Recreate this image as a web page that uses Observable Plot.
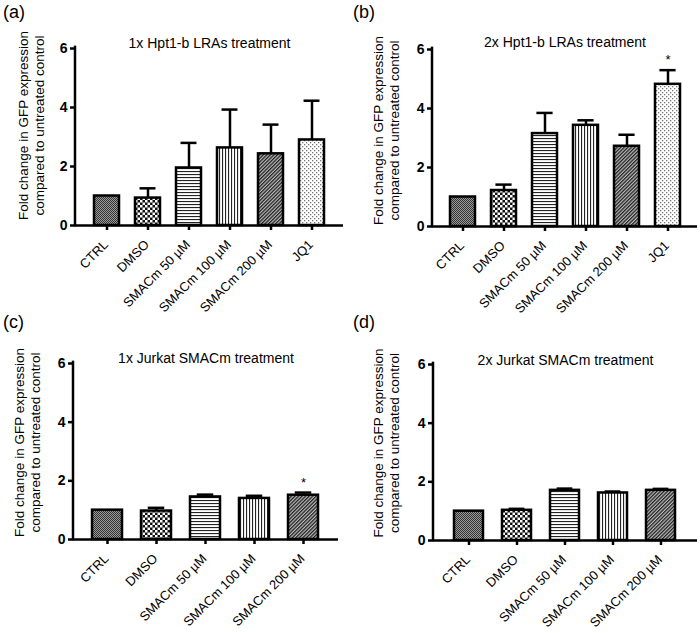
<!DOCTYPE html>
<html>
<head>
<meta charset="utf-8">
<script src="https://cdn.jsdelivr.net/npm/d3@7"></script>
<script src="https://cdn.jsdelivr.net/npm/@observablehq/plot@0.6"></script>
<style>
  html, body { margin: 0; padding: 0; background: #fff; }
  #wrap { position: relative; width: 700px; height: 633px; font-family: "Liberation Sans", Arial, sans-serif; color: #000; }
  .panel { position: absolute; }
  .plabel { position: absolute; font-size: 18px; line-height: 1; font-family: "Liberation Sans", Arial, sans-serif; }
</style>
</head>
<body>
<svg width="0" height="0" style="position:absolute">
  <defs>
    <pattern id="pat-ctrl" width="2" height="2" patternUnits="userSpaceOnUse">
      <rect width="2" height="2" fill="#9a9a9a"/>
      <rect width="1" height="1" fill="#333"/>
      <rect x="1" y="1" width="1" height="1" fill="#333"/>
    </pattern>
    <pattern id="pat-dmso" width="5" height="5" patternUnits="userSpaceOnUse">
      <rect width="5" height="5" fill="#111"/>
      <rect width="2.5" height="2.5" fill="#fff"/>
      <rect x="2.5" y="2.5" width="2.5" height="2.5" fill="#fff"/>
    </pattern>
    <pattern id="pat-h" width="4" height="3" patternUnits="userSpaceOnUse">
      <rect width="4" height="3" fill="#fff"/>
      <rect width="4" height="1.1" fill="#222"/>
    </pattern>
    <pattern id="pat-v" width="3" height="4" patternUnits="userSpaceOnUse">
      <rect width="3" height="4" fill="#fff"/>
      <rect width="1.1" height="4" fill="#222"/>
    </pattern>
    <pattern id="pat-diag" width="2.5" height="4" patternUnits="userSpaceOnUse" patternTransform="rotate(45)">
      <rect width="2.5" height="4" fill="#bbb"/>
      <rect width="1.3" height="4" fill="#222"/>
    </pattern>
    <pattern id="pat-dots" width="4" height="4" patternUnits="userSpaceOnUse">
      <rect width="4" height="4" fill="#fff"/>
      <rect width="1.3" height="1.3" fill="#777"/>
      <rect x="2" y="2" width="1.3" height="1.3" fill="#777"/>
    </pattern>
  </defs>
</svg>
<div id="wrap"></div>
<script>
// ---- data ----
const categories = ["CTRL", "DMSO", "SMACm 50 µM", "SMACm 100 µM", "SMACm 200 µM", "JQ1"];
const jurkatCategories = ["CTRL", "DMSO", "SMACm 50 µM", "SMACm 100 µM", "SMACm 200 µM"];
const patternIds = ["ctrl", "dmso", "h", "v", "diag", "dots"];
const yTicks = [0, 2, 4, 6];
const panelLetters = ["(a)", "(b)", "(c)", "(d)"];
const titles = ["1x Hpt1-b LRAs treatment", "2x Hpt1-b LRAs treatment", "1x Jurkat SMACm treatment", "2x Jurkat SMACm treatment"];
const yLabel = "Fold change in GFP expression\ncompared to untreated control";

const hptOnceMean  = [1.0, 0.93, 1.95, 2.63, 2.43, 2.90];
const hptOnceErr   = [null, 1.26, 2.80, 3.93, 3.42, 4.23];
const hptOnceSig   = ["", "", "", "", "", ""];

const hptTwiceMean = [1.0, 1.22, 3.15, 3.43, 2.72, 4.82];
const hptTwiceErr  = [null, 1.42, 3.85, 3.60, 3.11, 5.30];
const hptTwiceSig  = ["", "", "", "", "", "*"];

const jurOnceMean  = [1.0, 0.97, 1.45, 1.40, 1.51];
const jurOnceErr   = [null, 1.08, 1.53, 1.49, 1.60];
const jurOnceSig   = ["", "", "", "", "*"];

const jurTwiceMean = [1.0, 1.03, 1.71, 1.62, 1.71];
const jurTwiceErr  = [null, 1.08, 1.77, 1.67, 1.76];
const jurTwiceSig  = ["", "", "", "", ""];

// ---- layout ----
const PAD = 0.39;
const FONT = "Liberation Sans, Arial, sans-serif";

function makePanel(cfg) {
  const n = cfg.cats.length;
  const step = (cfg.xRange[1] - cfg.xRange[0]) / n;
  const bw = step * (1 - PAD);
  const capInset = Math.max(0, (bw - 16.5) / 2);
  const rows = cfg.cats.map((c, i) => ({
    cat: c, mean: cfg.mean[i], err: cfg.err[i], sig: cfg.sig[i],
    pat: `url(#pat-${patternIds[i]})`
  }));
  const withErr = rows.filter(d => d.err != null);
  const withSig = rows.filter(d => d.sig);
  const yAxisLine = (index, scales, values, dims) =>
    d3.create("svg:line")
      .attr("x1", dims.marginLeft).attr("x2", dims.marginLeft)
      .attr("y1", scales.y(0) + 1.25).attr("y2", scales.y(6.08))
      .attr("stroke", "#000").attr("stroke-width", 2.5)
      .node();
  return Plot.plot({
    width: cfg.W, height: cfg.H,
    marginLeft: cfg.mL, marginRight: cfg.mR, marginTop: cfg.mT, marginBottom: cfg.mB,
    style: { fontFamily: FONT, fontSize: "13px", color: "#000", background: "transparent", overflow: "visible" },
    x: { domain: cfg.cats, range: cfg.xRange, paddingInner: PAD, paddingOuter: PAD / 2, axis: null },
    y: { domain: [0, 6], axis: null },
    color: { type: "identity" },
    marks: [
      Plot.ruleX(withErr, { x: "cat", y1: "mean", y2: "err", stroke: "#000", strokeWidth: 2.5 }),
      Plot.tickY(withErr, { x: "cat", y: "err", stroke: "#000", strokeWidth: 2.5, insetLeft: capInset, insetRight: capInset }),
      Plot.barY(rows, { x: "cat", y: "mean", fill: "pat", stroke: "#000", strokeWidth: 2.5 }),
      Plot.ruleY([0], { stroke: "#000", strokeWidth: 2.5 }),
      yAxisLine,
      Plot.axisY({ ticks: yTicks, tickSize: 5, strokeWidth: 2.5, label: null, tickFormat: () => "" }),
      Plot.text(yTicks, { y: d => d, text: d => String(d), frameAnchor: "left", textAnchor: "end", lineAnchor: "middle", dx: -8, fontSize: 14, fontWeight: 700 }),
      Plot.axisX({ tickSize: 5, strokeWidth: 2.5, label: null, tickFormat: () => "" }),
      Plot.text(rows, { x: "cat", y: 0, text: "cat", rotate: -45, textAnchor: "end", lineAnchor: "middle", dx: -1, dy: 17, fontSize: 13 }),
      Plot.text([cfg.title], { frameAnchor: "top", lineAnchor: "bottom", dy: cfg.titleDy, fontSize: 14 }),
      Plot.text([yLabel], { frameAnchor: "left", rotate: -90, textAnchor: "middle", lineAnchor: "middle", lineHeight: 1.2, dx: cfg.labDx, dy: cfg.labDy, fontSize: 13.5 }),
      Plot.text(withSig, { x: "cat", y: "err", text: "sig", dy: -10, fontSize: 13 })
    ]
  });
}

const configs = [
  { left: 0,   top: 0,   W: 350, H: 320, mL: 75, mR: 7,  mT: 48, mB: 95, xRange: [83.4, 334.8], cats: categories,       mean: hptOnceMean,  err: hptOnceErr,  sig: hptOnceSig,  title: titles[0], titleDy: -1, labDx: -45,   labDy: -11.5 },
  { left: 350, top: 0,   W: 350, H: 320, mL: 82, mR: 3,  mT: 49, mB: 94, xRange: [90.9, 339.9], cats: categories,       mean: hptTwiceMean, err: hptTwiceErr, sig: hptTwiceSig, title: titles[1], titleDy: -3, labDx: -46.5, labDy: -7.5 },
  { left: 0,   top: 320, W: 350, H: 313, mL: 73, mR: 12, mT: 43, mB: 94, xRange: [82.1, 328.1], cats: jurkatCategories, mean: jurOnceMean,  err: jurOnceErr,  sig: jurOnceSig,  title: titles[2], titleDy: -1, labDx: -47,   labDy: -9 },
  { left: 350, top: 320, W: 350, H: 313, mL: 83, mR: 3,  mT: 44, mB: 93, xRange: [92.8, 337.3], cats: jurkatCategories, mean: jurTwiceMean, err: jurTwiceErr, sig: jurTwiceSig, title: titles[3], titleDy: 0,  labDx: -47.5, labDy: -9.5 }
];

const wrap = document.getElementById("wrap");
configs.forEach((cfg, i) => {
  const div = document.createElement("div");
  div.className = "panel";
  div.style.left = cfg.left + "px";
  div.style.top = cfg.top + "px";
  div.appendChild(makePanel(cfg));
  wrap.appendChild(div);
  const lab = document.createElement("div");
  lab.className = "plabel";
  lab.textContent = panelLetters[i];
  lab.style.left = (cfg.left + 3) + "px";
  lab.style.top = (cfg.top === 0 ? 3 : cfg.top - 7) + "px";
  wrap.appendChild(lab);
});
</script>
</body>
</html>
